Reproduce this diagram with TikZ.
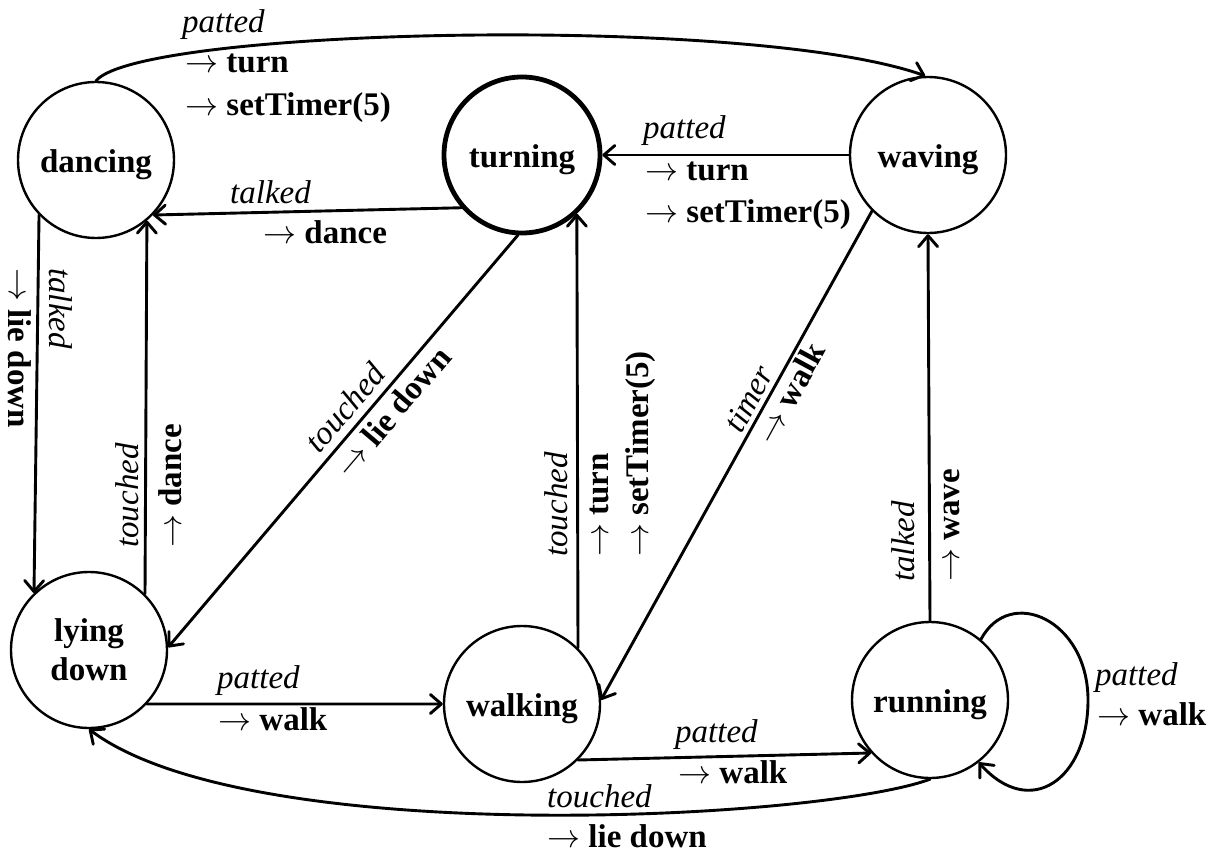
\RequirePackage{fix-cm}
\documentclass[tikz,border=0pt]{standalone}
\usepackage{fontspec}
\setmainfont{Liberation Serif}
\usetikzlibrary{arrows.meta}
\newcommand{\act}[1]{$\rightarrow$ \textbf{#1}}
\begin{document}
\begin{tikzpicture}[x=1pt,y=-1pt,
  state/.style={circle, draw, line width=2.4pt, minimum size=156pt, inner sep=0pt,
    font=\fontsize{33}{39}\selectfont\bfseries, text height=30pt, text depth=6pt},
  startstate/.style={state, line width=4.8pt},
  trans/.style={line width=2.9pt, line cap=round, -{Straight Barb[length=11pt,width=19pt,line join=round,line cap=round]}},
  lab/.style={inner sep=0pt, anchor=base west, font=\fontsize{33}{41}\selectfont},
  ev/.style={lab, font=\fontsize{33}{41}\selectfont\itshape}
]
\useasboundingbox (0,0) rectangle (1216,851);

% states
\node[state] (dancing) at (96,160) {dancing};
\node[startstate] (turning) at (522,155) {turning};
\node[state] (waving) at (928,155) {waving};
\node[state, align=center, text height=, text depth=] (lying) at (89,650) {lying\\down};
\node[state] (walking) at (522,704) {walking};
\node[state] (running) at (930,700) {running};
\coordinate (loopR) at (1088,700);

% transitions
\draw[trans] (dancing.90) .. controls (140,28) and (750,14) .. (waving.92);
\draw[trans] (waving.180) -- (turning.0);
\draw[trans] (turning.221) -- (dancing.-44);
\draw[trans] (dancing.224) -- (lying.134);
\draw[trans] (lying.45) -- (dancing.-50);
\draw[trans] (turning.267) -- (lying.2);
\draw[trans] (walking.45) -- (turning.-47);
\draw[trans] (waving.225) -- (walking.3);
\draw[trans] (running.90) -- (waving.270);
\draw[trans] (lying.-43) -- (walking.180);
\draw[trans] (walking.-45) -- (running.222);
\draw[trans] (running.270) .. controls (820,820) and (250,850) .. (lying.270);
\draw[trans] (running.50) .. controls (1010,585) and (1088,620) .. (loopR)
   .. controls (1088,780) and (1030,820) .. (running.-52);

% labels: dancing -> waving
\node[ev] (l1a) at (182,33) {patted};
\node[lab] (l1b) at (185,73) {\act{turn}};
\node[lab] (l1c) at (185,115) {\act{setTimer(5)}};
% waving -> turning
\node[ev] (l2a) at (643,138) {patted};
\node[lab] (l2b) at (645,180) {\act{turn}};
\node[lab] (l2c) at (645,222) {\act{setTimer(5)}};
% turning -> dancing
\node[ev] (l3a) at (230,203) {talked};
\node[lab] (l3b) at (263,243) {\act{dance}};
% dancing -> lying
\node[ev, rotate=-90] (l4a) at (49,268) {talked};
\node[lab, rotate=-90] (l4b) at (9,268) {\act{lie down}};
% lying -> dancing
\node[ev, rotate=90] (l5a) at (138,548) {touched};
\node[lab, rotate=90] (l5b) at (181,548) {\act{dance}};
% turning -> lying
\node[ev, rotate=49.6] (l6a) at (319.6,454.5) {touched};
\node[lab, rotate=49.6] (l6b) at (349.4,479.7) {\act{lie down}};
% walking -> turning
\node[ev, rotate=90] (l7a) at (567,557) {touched};
\node[lab, rotate=90] (l7b) at (608,557) {\act{turn}};
\node[lab, rotate=90] (l7c) at (648,557) {\act{setTimer(5)}};
% waving -> walking
\node[ev, rotate=61.4] (l8a) at (741.6,434.8) {timer};
\node[lab, rotate=61.4] (l8b) at (773.8,446.6) {\act{walk}};
% running -> waving
\node[ev, rotate=90] (l9a) at (914,582) {talked};
\node[lab, rotate=90] (l9b) at (959,582) {\act{wave}};
% lying -> walking
\node[ev] (l10a) at (217,688) {patted};
\node[lab] (l10b) at (218,730) {\act{walk}};
% walking -> running
\node[ev] (l11a) at (675,742) {patted};
\node[lab] (l11b) at (678,783) {\act{walk}};
% running -> lying
\node[ev] (l12a) at (547,807) {touched};
\node[lab] (l12b) at (547,847) {\act{lie down}};
% running self loop
\node[ev] (l13a) at (1095,685) {patted};
\node[lab] (l13b) at (1097,725) {\act{walk}};
\end{tikzpicture}
\end{document}
